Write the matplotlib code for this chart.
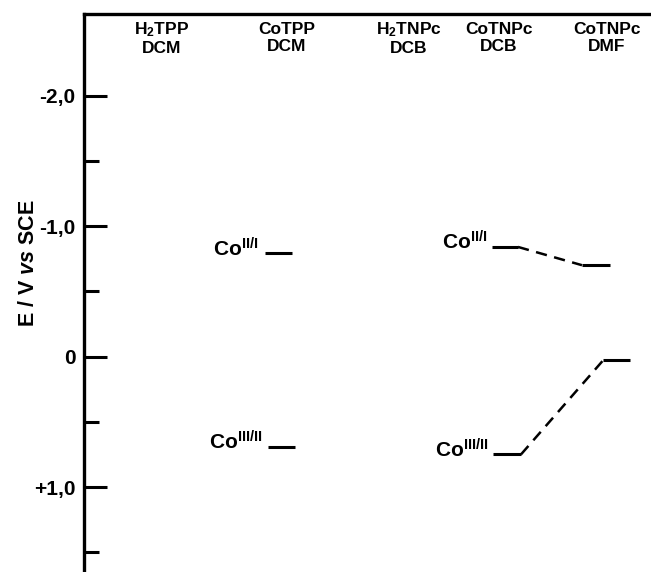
import matplotlib.pyplot as plt
from matplotlib.ticker import FixedLocator

plt.rcParams['font.family'] = 'Liberation Sans'
plt.rcParams['font.weight'] = 'bold'
plt.rcParams['mathtext.fontset'] = 'custom'
plt.rcParams['mathtext.rm'] = 'Liberation Sans:bold'
plt.rcParams['mathtext.bf'] = 'Liberation Sans:bold'
plt.rcParams['mathtext.it'] = 'Liberation Sans:bold:italic'

# compound / solvent headers
columns = [r'H$_\mathrm{2}$TPP' + '\nDCM', 'CoTPP\nDCM', r'H$_\mathrm{2}$TNPc' + '\nDCB',
           'CoTNPc\nDCB', 'CoTNPc\nDMF']
col_x = [78, 203, 325, 415, 523]

# redox potentials, E / V vs SCE
cotpp_II_I = -0.79
cotpp_III_II = 0.69
cotnpc_dcb_II_I = -0.84
cotnpc_dmf_II_I = -0.70
cotnpc_dcb_III_II = 0.75
cotnpc_dmf_III_II = 0.03

yticks = [-2.0, -1.0, 0.0, 1.0]
yticklabels = ['-2,0', '-1,0', '0', '+1,0']
yminor = [-1.5, -0.5, 0.5, 1.5]

fig = plt.figure(figsize=(6.51, 5.72), dpi=100)
ax = fig.add_axes([84 / 651, 0, 567 / 651, 558 / 572])
ax.set_xlim(0, 567)
ax.set_ylim(1.651, -2.625)

for s in ['bottom', 'right']:
    ax.spines[s].set_visible(False)
for s in ['top', 'left']:
    ax.spines[s].set_linewidth(2.4)

ax.set_xticks([])
ax.yaxis.set_major_locator(FixedLocator(yticks))
ax.yaxis.set_minor_locator(FixedLocator(yminor))
ax.set_yticklabels(yticklabels, fontsize=15, fontweight='bold')
ax.tick_params(axis='y', which='major', direction='in', length=16.5, width=2.2, pad=6)
ax.tick_params(axis='y', which='minor', direction='in', length=11, width=2.2)
ax.set_ylabel(r'E / V $\mathit{vs}$ SCE', fontsize=15.5, fontweight='bold')
ax.yaxis.set_label_coords(-45 / 567, 1 - (263 - 14) / 558)

for x, name in zip(col_x, columns):
    ax.text(x, -2.44, name, ha='center', va='center', fontsize=12.5,
            fontweight='bold', linespacing=1.15)

lw = 2.2
dy = 0.02  # label baseline sits just under its level

# CoTPP in DCM
ax.plot([181, 208], [cotpp_II_I] * 2, color='black', lw=lw, solid_capstyle='butt')
ax.plot([184, 211], [cotpp_III_II] * 2, color='black', lw=lw, solid_capstyle='butt')
ax.text(174, cotpp_II_I + dy, r'Co$^\mathrm{II/I}$', ha='right', va='baseline', fontsize=15)
ax.text(178, cotpp_III_II + dy, r'Co$^\mathrm{III/II}$', ha='right', va='baseline', fontsize=15)

# CoTNPc: DCB -> DMF
ax.plot([408, 434], [cotnpc_dcb_II_I] * 2, color='black', lw=lw, solid_capstyle='butt')
ax.plot([498, 526], [cotnpc_dmf_II_I] * 2, color='black', lw=lw, solid_capstyle='butt')
ax.plot([434, 498], [cotnpc_dcb_II_I, cotnpc_dmf_II_I], color='black', lw=1.8,
        dashes=(4.5, 3))
ax.plot([409, 437], [cotnpc_dcb_III_II] * 2, color='black', lw=lw, solid_capstyle='butt')
ax.plot([519, 546], [cotnpc_dmf_III_II] * 2, color='black', lw=lw, solid_capstyle='butt')
ax.plot([437, 519], [cotnpc_dcb_III_II, cotnpc_dmf_III_II], color='black', lw=1.8,
        dashes=(4.5, 3))
ax.text(403, cotnpc_dcb_II_I + dy, r'Co$^\mathrm{II/I}$', ha='right', va='baseline', fontsize=15)
ax.text(404, cotnpc_dcb_III_II + dy, r'Co$^\mathrm{III/II}$', ha='right', va='baseline', fontsize=15)

fig.savefig('out.png', dpi=100)
